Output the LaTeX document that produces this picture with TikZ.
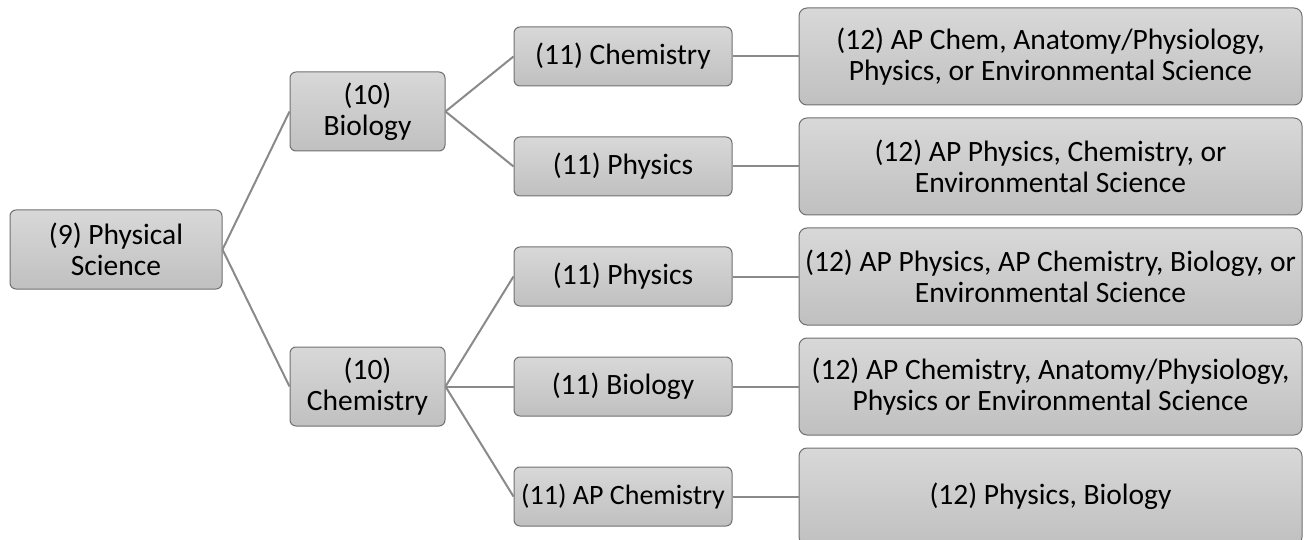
\documentclass[tikz,border=0pt]{standalone}
\usepackage{fontspec}
\setmainfont{Carlito}
\definecolor{boxtop}{HTML}{D8D8D8}
\definecolor{boxbot}{HTML}{C0C0C0}
\definecolor{boxline}{HTML}{707070}
\definecolor{linkc}{HTML}{8A8A8A}
\begin{document}
\begin{tikzpicture}[x=1pt,y=-1pt,
  box/.style={draw=boxline, line width=1pt, top color=boxtop, bottom color=boxbot,
    rounded corners=6pt, inner sep=0pt, align=center, text=black,
    font=\fontsize{29.5}{31}\selectfont},
  big/.style={box, minimum width=503pt, minimum height=97pt, rounded corners=8pt},
  mid/.style={box, minimum width=218pt, minimum height=59pt},
  ten/.style={box, minimum width=155pt, minimum height=79pt},
  link/.style={draw=linkc, line width=2pt}]
\useasboundingbox (0,0) rectangle (1304,540);
\clip (0,0) rectangle (1304,540);
\node[box, minimum width=212pt, minimum height=79pt] (n9) at (116,249.5) {(9) Physical\\Science};
\node[ten] (b10) at (367.5,111.5) {(10)\\Biology};
\node[ten] (c10) at (367.5,386.5) {(10)\\Chemistry};
\node[mid] (a11) at (623,56.5) {(11) Chemistry};
\node[mid] (b11) at (623,166.5) {(11) Physics};
\node[mid] (c11) at (623,276.5) {(11) Physics};
\node[mid] (d11) at (623,386.5) {(11) Biology};
\node[mid, font=\fontsize{28}{31}\selectfont] (e11) at (623,496.5) {(11) AP Chemistry};
\node[big] (a12) at (1050.5,56.5) {(12) AP Chem, Anatomy/Physiology,\\Physics, or Environmental Science};
\node[big] (b12) at (1050.5,166.5) {(12) AP Physics, Chemistry, or\\Environmental Science};
\node[big] (c12) at (1050.5,276.5) {(12) AP Physics, AP Chemistry, Biology, or\\Environmental Science};
\node[big] (d12) at (1050.5,386.5) {(12) AP Chemistry, Anatomy/Physiology,\\Physics or Environmental Science};
\node[big] (e12) at (1050.5,496.5) {(12) Physics, Biology};
\draw[link] (n9.east) -- (b10.west);
\draw[link] (n9.east) -- (c10.west);
\draw[link] (b10.east) -- (a11.west);
\draw[link] (b10.east) -- (b11.west);
\draw[link] (c10.east) -- (c11.west);
\draw[link] (c10.east) -- (d11.west);
\draw[link] (c10.east) -- (e11.west);
\draw[link] (a11.east) -- (a12.west);
\draw[link] (b11.east) -- (b12.west);
\draw[link] (c11.east) -- (c12.west);
\draw[link] (d11.east) -- (d12.west);
\draw[link] (e11.east) -- (e12.west);
\end{tikzpicture}
\end{document}
